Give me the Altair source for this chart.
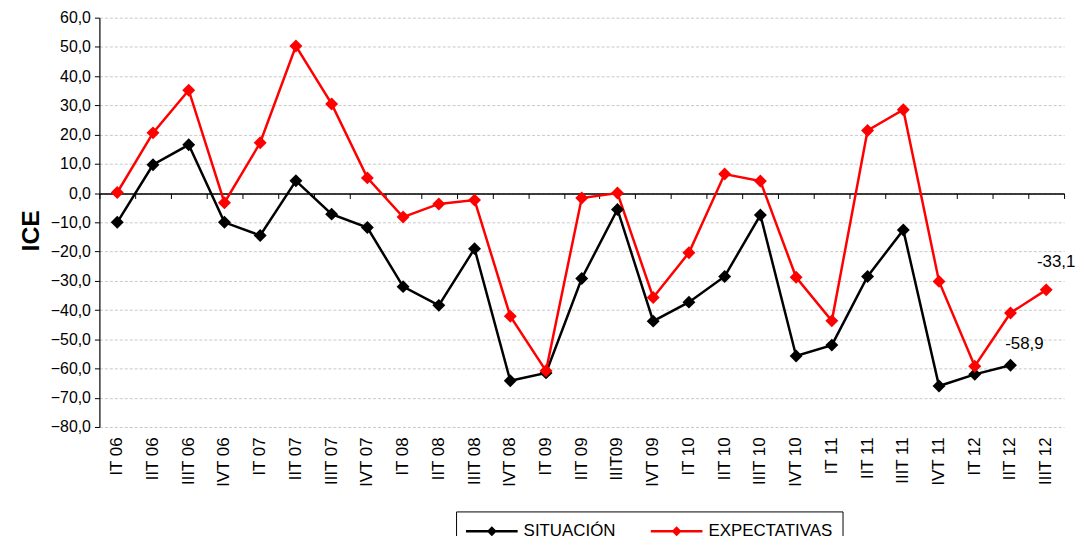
import altair as alt
import pandas as pd

quarters = ["IT 06", "IIT 06", "IIIT 06", "IVT 06", "IT 07", "IIT 07", "IIIT 07", "IVT 07",
            "IT 08", "IIT 08", "IIIT 08", "IVT 08", "IT 09", "IIT 09", "IIIT09", "IVT 09",
            "IT 10", "IIT 10", "IIIT 10", "IVT 10", "IT 11", "IIT 11", "IIIT 11", "IVT 11",
            "IT 12", "IIT 12", "IIIT 12"]
situacion = [-10.0, 9.7, 16.5, -10.0, -14.5, 4.2, -7.2, -11.8, -32.0, -38.4, -19.0, -64.2,
             -61.5, -29.2, -5.6, -43.8, -37.3, -28.5, -7.5, -55.7, -52.0, -28.5, -12.6, -66.0,
             -62.0, -58.9, None]
expectativas = [0.2, 20.6, 35.2, -3.3, 17.2, 50.3, 30.5, 5.2, -8.2, -3.7, -2.4, -42.1,
                -60.8, -1.7, 0.0, -35.7, -20.4, 6.5, 4.1, -28.8, -43.7, 21.4, 28.5, -30.2,
                -59.2, -41.0, -33.1]
series_names = ["SITUACIÓN", "EXPECTATIVAS"]
series_colors = ["#000000", "#ff0000"]
y_ticks = [-80, -70, -60, -50, -40, -30, -20, -10, 0, 10, 20, 30, 40, 50, 60]

rows = []
for name, vals in zip(series_names, [situacion, expectativas]):
    for q, v in zip(quarters, vals):
        if v is not None:
            rows.append({"q": q, "v": v, "serie": name})
df = pd.DataFrame(rows)

labels = []
for name, vals in zip(series_names, [situacion, expectativas]):
    idx = max(i for i, v in enumerate(vals) if v is not None)
    labels.append({"q": quarters[idx], "v": vals[idx], "serie": name,
                   "txt": f"{vals[idx]:.1f}".replace(".", ",")})
lab_df = pd.DataFrame(labels)

xscale = alt.Scale(type="band", domain=quarters, paddingInner=0, paddingOuter=0)
yscale = alt.Scale(domain=[-80, 60], nice=False, zero=False)
cscale = alt.Scale(domain=series_names, range=series_colors)

# legend symbol: nominal size r=10 px; line drawn from -10 to 42 px, diamond at 16 px
legend_path = ("M-1,-0.13L4.2,-0.13L4.2,0.13L-1,0.13Z "
               "M1.1,0L1.6,-0.5L2.1,0L1.6,0.5Z")

yaxis = alt.Axis(values=y_ticks,
                 labelExpr="replace(format(datum.value, '.1f'), '.', ',')",
                 labelOverlap=False, tickCount=15,
                 title="ICE", titleFontSize=25, titleFontWeight="bold",
                 titleFont="Liberation Sans", titleColor="#000",
                 titleX=-69, titleY=214, titleAngle=-90, titleAlign="center",
                 titleBaseline="middle",
                 labelFont="Liberation Sans", labelFontSize=16, labelColor="#000",
                 labelPadding=4,
                 domainColor="#000", domainWidth=1.2, tickColor="#000", tickSize=5,
                 grid=True, gridColor="#c8c8c8", gridDash=[3, 2], gridWidth=1)

xaxis_labels = alt.Axis(orient="bottom", labelAngle=-90, domain=False, ticks=False, title=None,
                        labelFont="Liberation Sans", labelFontSize=17, labelColor="#000",
                        labelPadding=10, labelAlign="right", labelBaseline="middle",
                        labelOverlap=False, grid=False)

xaxis_zero = alt.Axis(orient="bottom", offset=-235, labels=False, title=None,
                      domain=True, domainColor="#000", domainWidth=1.5,
                      ticks=True, tickColor="#000", tickSize=5, tickWidth=1,
                      tickBand="extent", grid=False)

color_enc = alt.Color("serie:N", scale=cscale,
                      legend=alt.Legend(orient="none", legendX=359, legendY=497,
                                        direction="horizontal", title=None,
                                        symbolType=legend_path, symbolSize=400,
                                        symbolStrokeWidth=0,
                                        labelFont="Liberation Sans", labelFontSize=17,
                                        labelColor="#000", strokeColor="#000",
                                        padding=10, columnPadding=35, labelOffset=38))

zero_axis = alt.Chart(df).mark_point(opacity=0).encode(
    x=alt.X("q:N", scale=xscale, axis=xaxis_zero),
    y=alt.Y("v:Q", scale=yscale, axis=yaxis),
)

lines = alt.Chart(df).mark_line(strokeWidth=2.5).encode(
    x=alt.X("q:N", scale=xscale, axis=xaxis_labels),
    y=alt.Y("v:Q", scale=yscale, axis=yaxis),
    color=color_enc,
    detail="serie:N",
)

points = alt.Chart(df).mark_point(shape="diamond", filled=True, size=170, opacity=1).encode(
    x=alt.X("q:N", scale=xscale, axis=None),
    y=alt.Y("v:Q", scale=yscale, axis=yaxis),
    color=color_enc,
)

text_base = alt.Chart(lab_df).encode(
    x=alt.X("q:N", scale=xscale, axis=None),
    y=alt.Y("v:Q", scale=yscale, axis=yaxis),
    text="txt:N",
)
text_sit = text_base.transform_filter(alt.datum.serie == series_names[0]).mark_text(
    font="Liberation Sans", fontSize=17, color="#000", dx=14, dy=-21)
text_exp = text_base.transform_filter(alt.datum.serie == series_names[1]).mark_text(
    font="Liberation Sans", fontSize=17, color="#000", dx=10, dy=-28)

chart = alt.layer(lines, points, text_sit, text_exp, zero_axis).resolve_axis(
    x="independent").properties(
    width=971, height=412,
    autosize=alt.AutoSizeParams(type="none"),
    padding={"left": 92, "top": 8, "right": 12, "bottom": 108},
).configure_view(stroke=None)

chart.save("out.html", embed_options={"renderer": "svg", "actions": False})
